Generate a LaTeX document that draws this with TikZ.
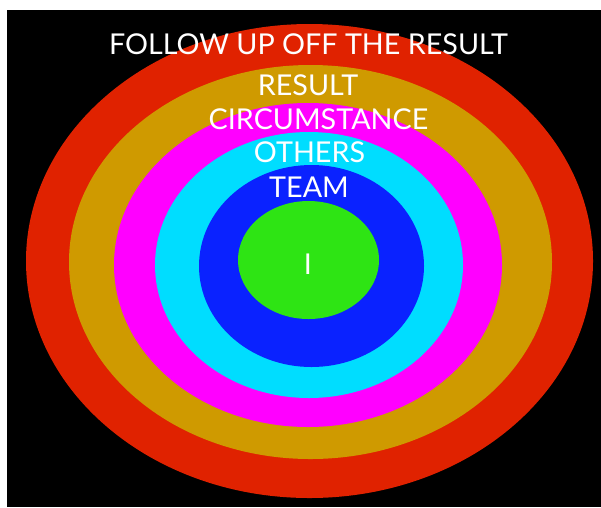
\documentclass[tikz,border=0pt]{standalone}
\usepackage{fontspec}
\setmainfont{Lato}
\definecolor{ringred}{RGB}{224,34,0}
\definecolor{ringgold}{RGB}{207,154,0}
\definecolor{ringmag}{RGB}{255,0,255}
\definecolor{ringcyan}{RGB}{0,221,255}
\definecolor{ringblue}{RGB}{10,34,255}
\definecolor{ringgreen}{RGB}{46,228,20}
\begin{document}
\begin{tikzpicture}[x=1pt,y=-1pt,
  lbl/.style={text=white,font=\fontsize{28.7}{28.7}\selectfont,inner sep=0pt,anchor=center}]
\useasboundingbox (0,0) rectangle (601,507);
\fill[white] (0,0) rectangle (601,507);
\fill[black] (7,10) rectangle (601,507);
\fill[ringred]   (309.5,261) ellipse [x radius=283.5pt, y radius=237pt];
\fill[ringgold]  (310.5,262) ellipse [x radius=241.5pt, y radius=197pt];
\fill[ringmag]   (308,265)   ellipse [x radius=194pt, y radius=162pt];
\fill[ringcyan]  (309,265)   ellipse [x radius=154pt, y radius=133pt];
\fill[ringblue]  (311.5,266) ellipse [x radius=112.5pt, y radius=101pt];
\fill[ringgreen] (308.5,260) ellipse [x radius=70.5pt, y radius=59pt];
\node[lbl] (follow) at (308.5,44) {FOLLOW UP OFF THE RESULT};
\node[lbl] (result) at (308,85) {RESULT};
\node[lbl] (circ) at (318.5,119) {CIRCUMSTANCE};
\node[lbl] (others) at (309.5,152) {OTHERS};
\node[lbl] (team) at (309,187.5) {TEAM};
\node[lbl] (me) at (308,264) {I};
\end{tikzpicture}
\end{document}
